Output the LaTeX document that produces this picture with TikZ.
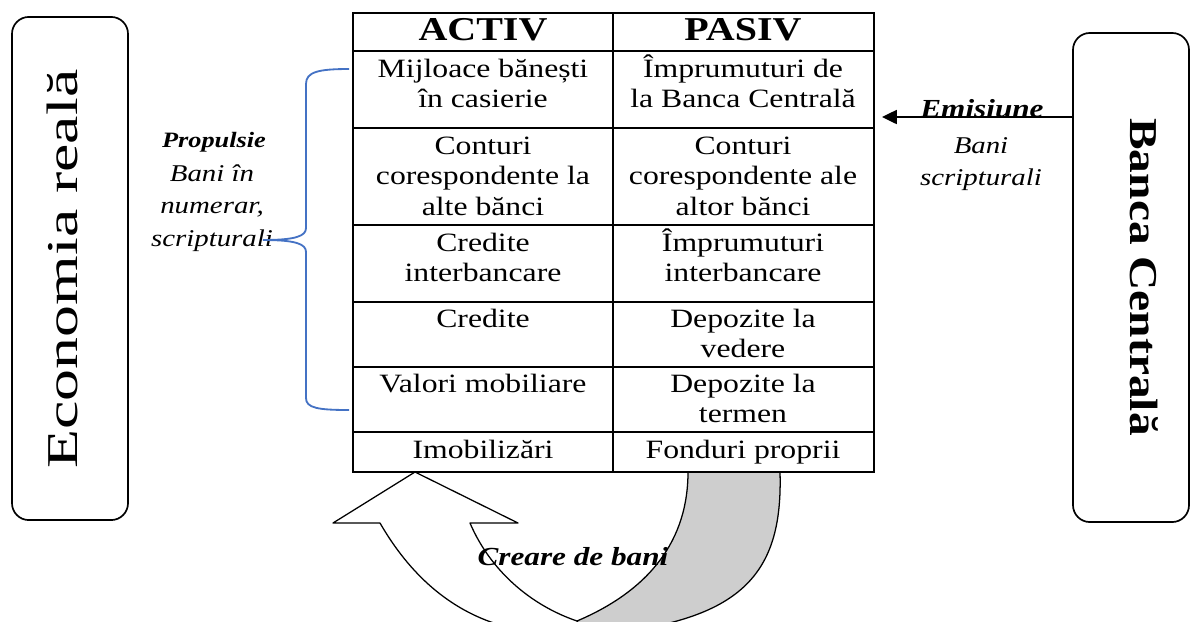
\documentclass[tikz,border=0pt]{standalone}
\usepackage{fontspec}
\setmainfont{Liberation Serif}[FakeStretch=1.2]
\newfontfamily\widefont{Liberation Serif}[FakeStretch=1.45]
\usetikzlibrary{arrows.meta}
\definecolor{braceblue}{RGB}{68,114,196}
\definecolor{backgray}{RGB}{206,206,206}
\newcommand\topline[1]{\rule{0pt}{#1}}
\tikzset{
    sidebox/.style = {
        shape=rectangle,
        draw,
        line width=1.2pt,
        rounded corners=12pt},
    cell/.style = {
        anchor=north,
        align=center,
        inner sep=0pt,
        font=\fontsize{18.8}{21.7}\selectfont},
    head/.style = {
        anchor=base,
        inner sep=0pt,
        font=\fontsize{23.7}{27}\selectfont\bfseries},
    note/.style = {
        anchor=north,
        align=center,
        inner sep=0pt,
        font=\fontsize{17.1}{23.1}\selectfont\itshape},
    title/.style = {
        anchor=base,
        inner sep=0pt,
        font=\fontsize{18.5}{21}\selectfont\bfseries\itshape},
    band/.style = {
        draw,
        line width=0.9pt,
        line join=round},
    grid/.style = {
        line width=1.4pt}
}

\begin{document}
\begin{tikzpicture}[
    x                       = 0.025cm,
    y                       = -0.025cm
]
\useasboundingbox (0,0) rectangle (1191,621);

\begin{scope}
    \clip (0,0) rectangle (1191,621);
    \draw [band, fill=backgray] (688,472) -- (780,472)
        .. controls (783,570) and (745,616) .. (620,632)
        -- (577,640) -- (577,621)
        .. controls (650,590) and (688,540) .. (688,472) -- cycle;
    \draw [band, fill=white] (415,472) -- (518,523) -- (470,523)
        .. controls (490,570) and (530,605) .. (577,621)
        -- (590,640) -- (500,640) -- (500,625)
        .. controls (450,610) and (410,575) .. (380,523)
        -- (333,523) -- cycle;
\end{scope}
\node [title] (cre) at (573,565) {Creare de bani};

\node [sidebox, minimum width=82.5pt, minimum height=357.8pt] (econbox) at (70,268.5) {};
\node [sidebox, minimum width=82.5pt, minimum height=347.8pt] (bncbox) at (1131,277.5) {};
\node [rotate=90, anchor=base, inner sep=0pt, font=\fontsize{31.3}{36}\widefont] (econ) at (77,269) {Economia reală};
\node [rotate=-90, anchor=base, inner sep=0pt, font=\fontsize{28.1}{32}\selectfont\bfseries] (bnc) at (1130,277) {Banca Centrală};

\draw [grid] (353,13) rectangle (874,472);
\draw [grid] (613,13) -- (613,472);
\foreach \y in {51,128,225,302,367,432}
    \draw [grid] (353,\y) -- (874,\y);

\node [head] (hA) at (483,40) {ACTIV};
\node [head] (hP) at (743,40) {PASIV};

\node [cell] (a1) at (483,52.5) {\topline{17.5pt}Mijloace bănești\\în casierie};
\node [cell] (p1) at (743,52.5) {\topline{17.5pt}Împrumuturi de\\la Banca Centrală};
\node [cell] (a2) at (483,129.5) {\topline{17.5pt}Conturi\\corespondente la\\alte bănci};
\node [cell] (p2) at (743,129.5) {\topline{17.5pt}Conturi\\corespondente ale\\altor bănci};
\node [cell] (a3) at (483,226.5) {\topline{17.5pt}Credite\\interbancare};
\node [cell] (p3) at (743,226.5) {\topline{17.5pt}Împrumuturi\\interbancare};
\node [cell] (a4) at (483,302.5) {\topline{17.5pt}Credite};
\node [cell] (p4) at (743,302.5) {\topline{17.5pt}Depozite la\\vedere};
\node [cell] (a5) at (483,367.5) {\topline{17.5pt}Valori mobiliare};
\node [cell] (p5) at (743,367.5) {\topline{17.5pt}Depozite la\\termen};
\node [cell] (a6) at (483,433.5) {\topline{17.5pt}Imobilizări};
\node [cell] (p6) at (743,433.5) {\topline{17.5pt}Fonduri proprii};

\node [title, font=\fontsize{15.6}{18}\selectfont\bfseries\itshape] (prop) at (214,147) {Propulsie};
\node [note] (propbani) at (212,164) {\topline{12pt}Bani în\\numerar,\\scripturali};

\node [title] (emis) at (982,117) {Emisiune};
\node [note] (emisbani) at (981,136) {\topline{12pt}Bani\\scripturali};

\coordinate (emtip) at (882,117);
\draw [line width=1.1pt, -{Triangle[length=10.5pt, width=10pt]}] (bncbox.west |- emtip) -- (emtip);

\coordinate (brtop) at (349,69);
\coordinate (brtip) at (263,240);
\coordinate (brbot) at (349,410);
\draw [braceblue, line width=1.3pt] (brtop) .. controls (318,69) and (306,72) .. (306,84)
    -- (306,228) .. controls (306,236) and (296,240) .. (brtip)
    .. controls (296,240) and (306,244) .. (306,252)
    -- (306,398) .. controls (306,408) and (318,410) .. (brbot);

\end{tikzpicture}
\end{document}
